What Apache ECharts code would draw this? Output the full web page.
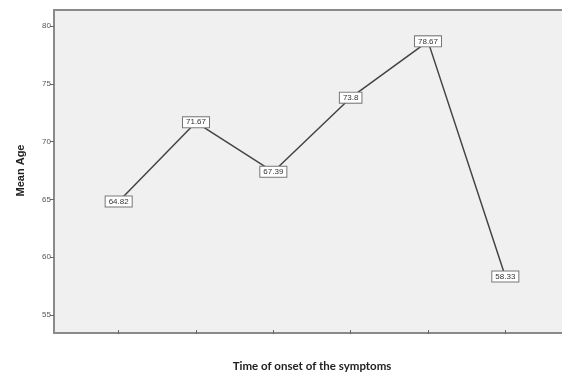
<!DOCTYPE html>
<html>
<head>
<meta charset="utf-8">
<script src="https://cdn.jsdelivr.net/npm/echarts@6/dist/echarts.min.js"></script>
<style>
  html, body { margin: 0; padding: 0; background: #fff; }
  #chart { width: 562px; height: 377px; }
</style>
</head>
<body>
<div id="chart"></div>
<script>
// data
const categories = ['1', '2', '3', '4', '5', '6'];
const meanAge = [64.82, 71.67, 67.39, 73.8, 78.67, 58.33];
const yTicks = { min: 55, max: 80, step: 5 };

const chart = echarts.init(document.getElementById('chart'));

// plain line used for the three visible sides of the plot frame
const frameLine = { show: true, lineStyle: { color: '#8a8a8a', width: 2 } };
const frameAxis = (pos) => ({
    type: 'value', gridIndex: 1, position: pos,
    axisLine: frameLine, axisTick: { show: false },
    axisLabel: { show: false }, splitLine: { show: false }
});

const option = {
    backgroundColor: '#fff',
    animation: false,
    grid: [
        // data area
        { left: 80, top: 26, width: 464, bottom: 59 },
        // plot panel, open on the right as in the source
        {
            left: 54, top: 10, right: 0, bottom: 44,
            show: true, backgroundColor: '#f0f0f0', borderWidth: 0, z: 0
        }
    ],
    xAxis: [
        {
            type: 'category',
            gridIndex: 0,
            data: categories,
            boundaryGap: true,
            offset: 15,
            axisLine: { show: false },
            axisTick: { show: true, alignWithLabel: true, length: 4, lineStyle: { color: '#666' } },
            axisLabel: { show: false },
            name: 'Time of onset of the symptoms',
            nameLocation: 'middle',
            nameGap: 30,
            nameTextStyle: { fontFamily: 'Lato', fontWeight: 'bold', fontSize: 11.5, color: '#222' }
        },
        frameAxis('bottom'),
        frameAxis('top')
    ],
    yAxis: [
        {
            type: 'value',
            gridIndex: 0,
            min: yTicks.min,
            max: yTicks.max,
            interval: yTicks.step,
            offset: 26,
            axisLine: { show: false },
            axisTick: { show: true, length: 4, lineStyle: { color: '#666' } },
            axisLabel: { fontSize: 8, color: '#555', margin: 3, fontFamily: 'Liberation Sans' },
            splitLine: { show: false },
            name: 'Mean Age',
            nameLocation: 'middle',
            nameGap: 28,
            nameTextStyle: { fontFamily: 'Liberation Sans', fontWeight: 'bold', fontSize: 11, color: '#222' }
        },
        frameAxis('left')
    ],
    series: [
        {
            type: 'line',
            xAxisIndex: 0,
            yAxisIndex: 0,
            data: meanAge,
            symbol: 'circle',
            symbolSize: 1,
            showSymbol: true,
            itemStyle: { color: 'rgba(0,0,0,0)' },
            z: 5,
            lineStyle: { color: '#444', width: 1.5 },
            label: {
                show: true,
                position: 'inside',
                fontSize: 8,
                fontFamily: 'Liberation Sans',
                color: '#333',
                backgroundColor: '#fff',
                borderColor: '#777',
                borderWidth: 1,
                padding: [1, 3]
            }
        }
    ]
};

chart.setOption(option);
</script>
</body>
</html>
